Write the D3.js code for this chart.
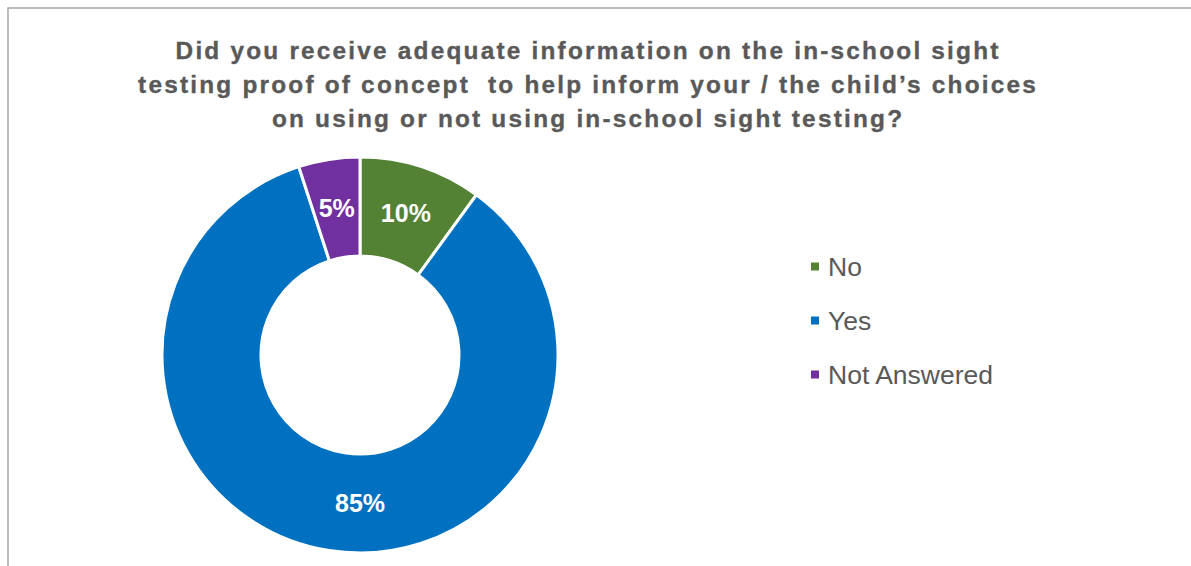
<!DOCTYPE html>
<html>
<head>
<meta charset="utf-8">
<script src="https://cdn.jsdelivr.net/npm/d3@7"></script>
<style>
  html, body { margin: 0; padding: 0; background: #fff; }
  svg { display: block; }
  text { white-space: pre; }
</style>
</head>
<body>
<svg id="chart" width="1191" height="566"></svg>
<script>
// Survey responses
const categories = ["No", "Yes", "Not Answered"];
const values = [10, 85, 5];
const colors = ["#548235", "#0070C0", "#7030A0"];
const titleLines = [
  "Did you receive adequate information on the in-school sight",
  "testing proof of concept  to help inform your / the child\u2019s choices",
  "on using or not using in-school sight testing?"
];

const svg = d3.select("#chart");
const font = "'Liberation Sans', Arial, sans-serif";

// Chart frame
svg.append("rect")
  .attr("x", 8).attr("y", 8)
  .attr("width", 1200).attr("height", 600)
  .attr("fill", "#fff")
  .attr("stroke", "#a6a6a6")
  .attr("stroke-width", 1.5);

// Title
const titleX = 587, letterSp = 2.2;
svg.append("text")
  .attr("x", titleX)
  .attr("y", 59)
  .attr("text-anchor", "middle")
  .attr("font-family", font)
  .attr("font-weight", "bold")
  .attr("font-size", 24.4)
  .attr("letter-spacing", letterSp)
  .attr("fill", "#595959")
  .attr("stroke", "#595959")
  .attr("stroke-width", 0.35)
  .selectAll("tspan")
  .data(titleLines)
  .join("tspan")
  .attr("x", titleX + letterSp / 2)
  .attr("dy", (d, i) => i === 0 ? 0 : 34)
  .text(d => d);

// Donut
const cx = 360, cy = 355, outerR = 198, innerR = 99;
const data = categories.map((c, i) => ({ name: c, value: values[i], color: colors[i] }));

const pie = d3.pie().value(d => d.value).sort(null);
const arc = d3.arc().innerRadius(innerR).outerRadius(outerR);

const g = svg.append("g").attr("transform", `translate(${cx},${cy})`);
const arcs = pie(data);

g.selectAll("path")
  .data(arcs)
  .join("path")
  .attr("d", arc)
  .attr("fill", d => d.data.color)
  .attr("stroke", "#fff")
  .attr("stroke-width", 3)
  .attr("stroke-linejoin", "miter");

// The large slice's label sits at the bottom of the ring
const labelAngleOverride = { "Yes": Math.PI };
const midR = (innerR + outerR) / 2;

g.selectAll("text.val")
  .data(arcs)
  .join("text")
  .attr("class", "val")
  .attr("transform", d => {
    let a = labelAngleOverride[d.data.name];
    if (a === undefined) a = (d.startAngle + d.endAngle) / 2;
    return `translate(${midR * Math.sin(a)},${-midR * Math.cos(a)})`;
  })
  .attr("text-anchor", "middle")
  .attr("dy", "0.34em")
  .attr("font-family", font)
  .attr("font-weight", "bold")
  .attr("font-size", 25)
  .attr("fill", "#fff")
  .text(d => d.data.value + "%");

// Legend
const legend = svg.append("g").attr("transform", "translate(811,0)");
const legendY = d3.scalePoint().domain(categories).range([266.5, 374.5]);

const items = legend.selectAll("g")
  .data(data)
  .join("g")
  .attr("transform", d => `translate(0,${legendY(d.name)})`);

items.append("rect")
  .attr("x", 0).attr("y", -4)
  .attr("width", 8).attr("height", 8)
  .attr("fill", d => d.color);

items.append("text")
  .attr("x", 17)
  .attr("y", 0)
  .attr("dy", "0.34em")
  .attr("font-family", font)
  .attr("font-size", 26.5)
  .attr("fill", "#595959")
  .text(d => d.name);
</script>
</body>
</html>
